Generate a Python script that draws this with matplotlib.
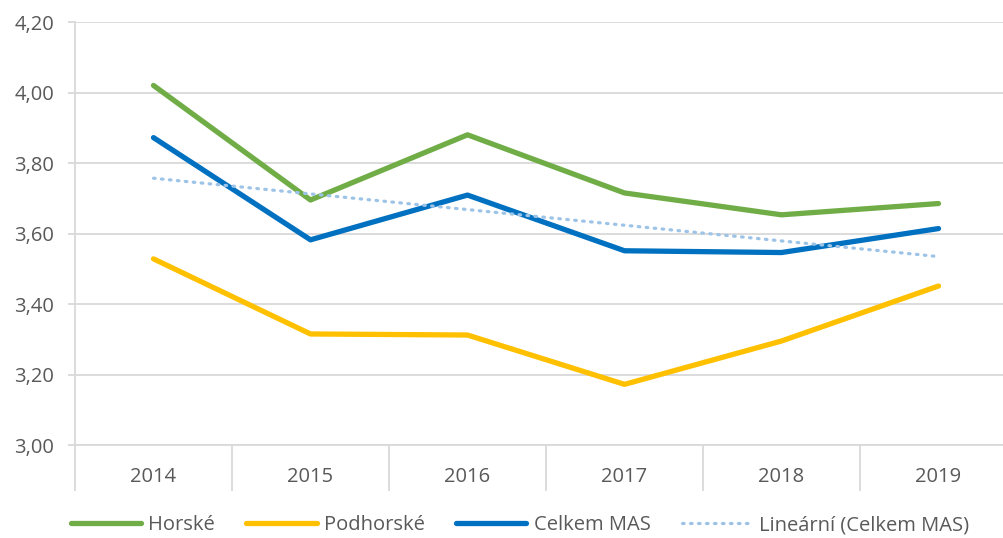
import matplotlib.pyplot as plt
import numpy as np
from matplotlib.ticker import FuncFormatter, FixedLocator

plt.rcParams['font.family'] = ['Open Sans', 'DejaVu Sans']

years = ['2014', '2015', '2016', '2017', '2018', '2019']
horske = [4.02, 3.695, 3.88, 3.715, 3.653, 3.685]
podhorske = [3.528, 3.315, 3.312, 3.172, 3.295, 3.451]
celkem_mas = [3.872, 3.582, 3.709, 3.551, 3.546, 3.614]

x = np.arange(len(years))

# linear trendline through Celkem MAS, like the spreadsheet does
k, q = np.polyfit(x, celkem_mas, 1)
trend = k * x + q

grey = '#595959'
grid = '#D9D9D9'

fig = plt.figure(figsize=(10.04, 5.38), dpi=100)
ax = fig.add_axes([75 / 1004, 1 - 445 / 538, 942 / 1004, 423 / 538])

ax.plot(x, horske, color='#70AD47', lw=3.8, label='Horské', solid_capstyle='round')
ax.plot(x, podhorske, color='#FFC000', lw=3.8, label='Podhorské', solid_capstyle='round')
ax.plot(x, celkem_mas, color='#0070C0', lw=3.8, label='Celkem MAS', solid_capstyle='round')
ax.plot(x, trend, color='#9DC3E6', lw=2.3, ls=(0, (0.5, 2.0)), dash_capstyle='round',
        label='Lineární (Celkem MAS)')

ax.set_xlim(-0.5, 5.5)
ax.set_ylim(3.0, 4.2)
ax.set_yticks(np.arange(3.0, 4.21, 0.2))
ax.yaxis.set_major_formatter(FuncFormatter(lambda v, p: f'{v:.2f}'.replace('.', ',')))
ax.grid(axis='y', color=grid, lw=1.3)
ax.set_axisbelow(True)

ax.set_xticks(x)
ax.set_xticklabels(years)
ax.xaxis.set_minor_locator(FixedLocator(np.arange(-0.5, 5.6, 1.0)))
ax.tick_params(axis='x', which='major', length=0, pad=16, labelsize=14.5, labelcolor=grey)
ax.tick_params(axis='x', which='minor', length=33, width=1.3, color=grid)
ax.tick_params(axis='y', length=5, width=1.3, color=grid, pad=10, labelsize=14.5, labelcolor=grey)

for s in ['top', 'right']:
    ax.spines[s].set_visible(False)
for s in ['left', 'bottom']:
    ax.spines[s].set_color(grid)
    ax.spines[s].set_linewidth(1.3)

fig.legend(loc='center', bbox_to_anchor=(0.518, 1 - 525 / 538), ncol=4, frameon=False,
           fontsize=14.5, labelcolor=grey, handlelength=3.5, handletextpad=0.35,
           columnspacing=1.55)

fig.savefig('out.png', dpi=100)
